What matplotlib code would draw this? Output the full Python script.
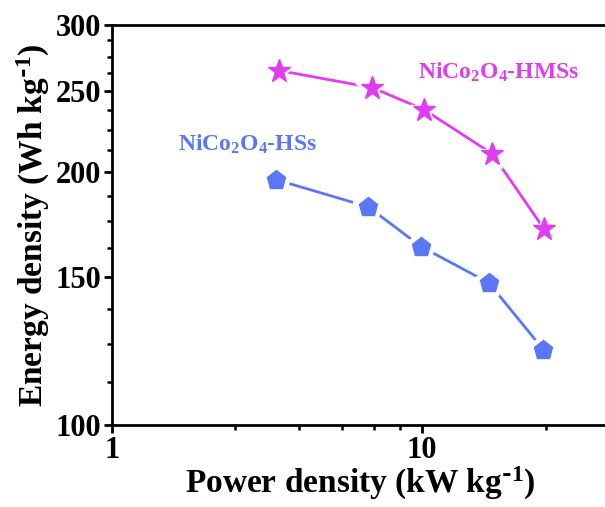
import matplotlib

matplotlib.use("Agg")
import matplotlib.pyplot as plt
from matplotlib.ticker import FixedLocator, NullFormatter, FixedFormatter

plt.rcParams["font.family"] = ["Liberation Serif", "DejaVu Serif"]
plt.rcParams["font.weight"] = "bold"
plt.rcParams["mathtext.default"] = "regular"

# data (kW/kg, Wh/kg)
hms_power = [3.46, 6.9, 10.15, 16.8, 24.7]
hms_energy = [264.6, 252.5, 237.6, 210.6, 171.3]
hs_power = [3.38, 6.7, 9.93, 16.4, 24.6]
hs_energy = [196.1, 182.0, 163.1, 147.7, 122.9]

hms_color = "#E03CF0"
hs_color = "#5A78F5"

y_major = [100, 150, 200, 250, 300]
y_minor = [112.5, 125, 137.5, 162.5, 175, 187.5, 212.5, 225, 237.5, 262.5, 275, 287.5]
x_major = [1, 10]
x_minor = [2.5, 4, 5.5, 7, 8.5, 25]

fig = plt.figure(figsize=(6.05, 5.07), dpi=100)
ax = fig.add_axes([0.185, 0.162, 1.0066 - 0.185, 0.951 - 0.162])
ax.set_xscale("log")
ax.set_yscale("log")


def draw_series(x, y, color, marker, size):
    ax.plot(x, y, color=color, linewidth=2.0, zorder=2)
    # white halo so the line stops short of each marker
    ax.plot(x, y, linestyle="none", marker=marker, markersize=size + 8,
            markerfacecolor="white", markeredgecolor="white", zorder=3)
    ax.plot(x, y, linestyle="none", marker=marker, markersize=size,
            markerfacecolor=color, markeredgecolor=color, zorder=4)


draw_series(hms_power, hms_energy, hms_color, "*", 17)
draw_series(hs_power, hs_energy, hs_color, "p", 14)

ax.text(9.7, 263, "NiCo$_2$O$_4$-HMSs", color=hms_color, fontsize=17,
        fontweight="bold", ha="left", va="center")
ax.text(1.63, 216, "NiCo$_2$O$_4$-HSs", color=hs_color, fontsize=17,
        fontweight="bold", ha="left", va="center")

ax.set_xlim(1, 40)
ax.set_ylim(100, 300)

ax.xaxis.set_major_locator(FixedLocator(x_major))
ax.xaxis.set_major_formatter(FixedFormatter([str(v) for v in x_major]))
ax.xaxis.set_minor_locator(FixedLocator(x_minor))
ax.xaxis.set_minor_formatter(NullFormatter())
ax.yaxis.set_major_locator(FixedLocator(y_major))
ax.yaxis.set_major_formatter(FixedFormatter([str(v) for v in y_major]))
ax.yaxis.set_minor_locator(FixedLocator(y_minor))
ax.yaxis.set_minor_formatter(NullFormatter())

ax.tick_params(which="major", direction="out", length=6, width=2, labelsize=22, pad=2)
ax.tick_params(which="minor", direction="out", length=3.5, width=1.8)
for label in ax.get_xticklabels() + ax.get_yticklabels():
    label.set_fontweight("bold")

for spine in ax.spines.values():
    spine.set_linewidth(2)

ax.set_xlabel("Power density (kW kg$^{\\text{-}1}$)", fontsize=24, fontweight="bold", labelpad=0)
ax.set_ylabel("Energy density (Wh kg$^{\\text{-}1}$)", fontsize=24, fontweight="bold", labelpad=2)

fig.savefig("out.png", dpi=100)
